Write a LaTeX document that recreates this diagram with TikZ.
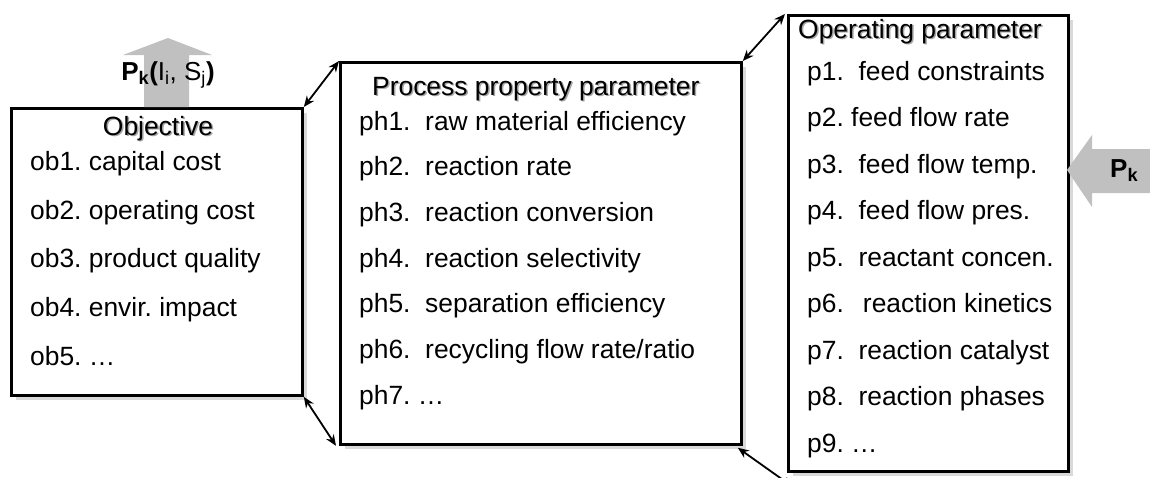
\documentclass[tikz,border=0pt]{standalone}
\usepackage{fontspec}
\setmainfont{Liberation Sans}
\usetikzlibrary{arrows.meta,shadows}
\frenchspacing

\definecolor{blockgray}{RGB}{192,192,192}
\definecolor{shadegray}{RGB}{217,217,217}

\tikzset{
  listbox/.style={draw=black, line width=2.8pt, fill=white, inner sep=0pt,
    anchor=north west,
    drop shadow={shadow xshift=5pt, shadow yshift=-5pt, fill=shadegray, opacity=1}},
  item/.style={anchor=base west, inner sep=0pt, font=\fontsize{26.4}{30}\selectfont},
  heading/.style={item},
  headshade/.style={item, text=black!35},
  link/.style={{Stealth[length=11pt,width=9pt]}-{Stealth[length=11pt,width=9pt]}, line width=1.8pt},
  block/.style={fill=blockgray, draw=none},
  blocklabel/.style={anchor=base, inner sep=0pt, font=\fontsize{26}{30}\selectfont}
}

\begin{document}
\begin{tikzpicture}[x=1pt, y=-1pt]
  \useasboundingbox (0,0) rectangle (1150,477);

  % three parameter boxes
  \node[listbox, minimum width=291pt, minimum height=287pt] (obj) at (10,107) {};
  \node[listbox, minimum width=401pt, minimum height=382pt] (prop) at (339,61) {};
  \node[listbox, minimum width=280pt, minimum height=456pt] (oper) at (787,14) {};

  % upward output arrow above the objective box
  \fill[block] (144,107) -- (144,55) -- (123,55) -- (168,38) -- (212,55)
               -- (189,55) -- (189,107) -- cycle;
  \node[blocklabel] (pout) at (168,80)
    {\textbf{P\textsubscript{k}(}I\textsubscript{i}, S\textsubscript{j}\textbf{)}};

  % leftward input arrow at the operating box
  \fill[block] (1150,149) -- (1092,149) -- (1092,135) -- (1067,170)
               -- (1092,207) -- (1092,193) -- (1150,193) -- cycle;
  \node[blocklabel, anchor=base west] (pin) at (1110,177) {\textbf{P\textsubscript{k}}};

  % objective box
  \node[headshade, anchor=base] (objhs) at (159.5,136.5) {Objective};
  \node[heading, anchor=base] (objh) at (158,135) {Objective};
  \node[item] (ob1) at (30,170) {ob1. capital cost};
  \node[item] (ob2) at (30,219) {ob2. operating cost};
  \node[item] (ob3) at (30,267.5) {ob3. product quality};
  \node[item] (ob4) at (30,316) {ob4. envir. impact};
  \node[item] (ob5) at (30,365) {ob5. \ldots};

  % process property box
  \node[headshade] (prophs) at (373.5,96.5) {Process property parameter};
  \node[heading] (proph) at (372,95) {Process property parameter};
  \node[item] (ph1) at (359,130) {ph1.\ \ raw material efficiency};
  \node[item] (ph2) at (359,175.7) {ph2.\ \ reaction rate};
  \node[item] (ph3) at (359,221.4) {ph3.\ \ reaction conversion};
  \node[item] (ph4) at (359,267.1) {ph4.\ \ reaction selectivity};
  \node[item] (ph5) at (359,312.8) {ph5.\ \ separation efficiency};
  \node[item] (ph6) at (359,358.5) {ph6.\ \ recycling flow rate/ratio};
  \node[item] (ph7) at (359,404.2) {ph7. \ldots};

  % operating parameter box
  \node[headshade] (operhs) at (799.5,39.5) {Operating parameter};
  \node[heading] (operh) at (798,38) {Operating parameter};
  \node[item] (p1) at (807,80) {p1.\ \ feed constraints};
  \node[item] (p2) at (807,126.5) {p2. feed flow rate};
  \node[item] (p3) at (807,173) {p3.\ \ feed flow temp.};
  \node[item] (p4) at (807,219.5) {p4.\ \ feed flow pres.};
  \node[item] (p5) at (807,266) {p5.\ \ reactant concen.};
  \node[item] (p6) at (807,312.5) {p6.\ \ \,reaction kinetics};
  \node[item] (p7) at (807,359) {p7.\ \ reaction catalyst};
  \node[item] (p8) at (807,405.5) {p8.\ \ reaction phases};
  \node[item] (p9) at (807,452) {p9. \ldots};

  % two-way links between the boxes
  \coordinate (lowend) at (793,487);
  \draw[link] (obj.north east) -- (prop.north west);
  \draw[link] (obj.south east) -- ([xshift=-3pt]prop.south west);
  \draw[link] (prop.north east) -- ([xshift=-2pt]oper.north west);
  \draw[link] ([shift={(-5pt,-2pt)}]prop.south east) -- (lowend);
\end{tikzpicture}
\end{document}
